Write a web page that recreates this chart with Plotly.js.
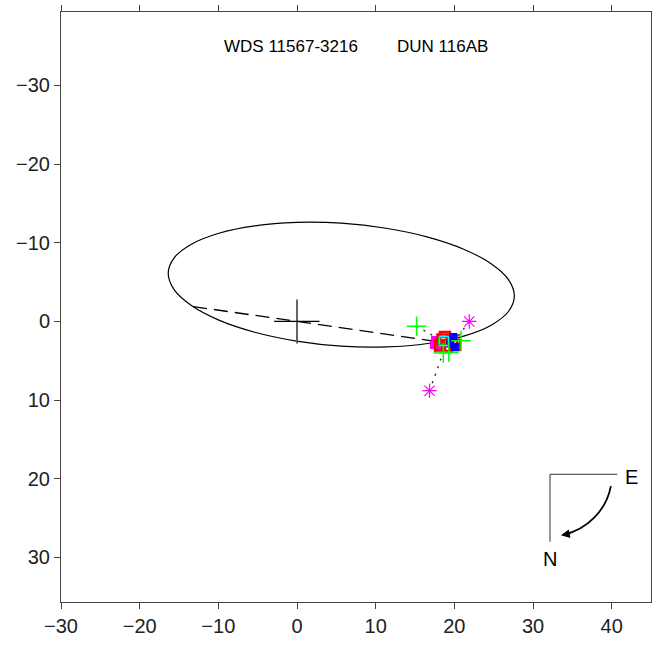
<!DOCTYPE html>
<html>
<head>
<meta charset="utf-8">
<script src="https://cdn.plot.ly/plotly-3.0.1.min.js"></script>
<style>html,body{margin:0;padding:0;background:#fff;}#chart{width:661px;height:648px;}</style>
</head>
<body>
<div id="chart"></div>
<script>
// Orbit (apparent ellipse) points
var orbitX = [27.63, 26.88, 24.68, 21.19, 16.63, 11.32, 5.63, -0.06, -5.37, -9.93, -13.42, -15.62, -16.37, -15.62, -13.42, -9.93, -5.37, -0.06, 5.63, 11.32, 16.63, 21.19, 24.68, 26.88, 27.63];
var orbitY = [-3.25, -1.27, 0.47, 1.86, 2.80, 3.23, 3.13, 2.49, 1.37, -0.17, -2.02, -4.04, -6.11, -8.09, -9.83, -11.22, -12.16, -12.59, -12.49, -11.85, -10.73, -9.19, -7.34, -5.32, -3.25];

// Line of nodes (dashed)
var nodeX = [-13.2, 18.5];
var nodeY = [-1.9, 2.65];

// Primary star cross
var crossVX = [0, 0];
var crossVY = [-2.8, 2.8];
var crossHX = [-2.9, 2.85];
var crossHY = [0, 0];

// Observations
var plusX = [15.2, 20.85, 18.6, 19.3];
var plusY = [0.6, 2.44, 4.0, 3.9];
var starX = [21.9, 16.85];
var starY = [0.0, 8.8];
var redX = [18.81, 19.70, 20.08, 18.18, 19.07, 18.5];
var redY = [1.97, 2.35, 2.99, 2.99, 3.11, 2.3];
var blueX = [19.83, 20.08, 19.5];
var blueY = [1.97, 3.24, 2.8];
var cyanX = [18.68];
var cyanY = [2.48];
var greenSqX = [18.43];
var greenSqY = [2.48];
var magX = [17.54, 17.41, 17.9];
var magY = [2.35, 2.99, 3.4];

// Residual lines: observation -> predicted orbit position
var resid = [
  {x: [15.2, 18.6], y: [0.6, 2.55]},
  {x: [21.9, 20.3], y: [0.0, 2.1]},
  {x: [16.85, 19.0], y: [8.8, 2.8]}
];

var traces = [];
traces.push({x: orbitX, y: orbitY, mode: 'lines', line: {color: '#000', width: 1.2, shape: 'spline', smoothing: 1}, hoverinfo: 'skip'});
traces.push({x: nodeX, y: nodeY, mode: 'lines', line: {color: '#000', width: 1.3, dash: '14px,7px'}, hoverinfo: 'skip'});
traces.push({x: crossVX, y: crossVY, mode: 'lines', line: {color: '#555', width: 1.8}, hoverinfo: 'skip'});
traces.push({x: crossHX, y: crossHY, mode: 'lines', line: {color: '#000', width: 1.3}, hoverinfo: 'skip'});
resid.forEach(function (r) {
  traces.push({x: r.x, y: r.y, mode: 'lines', line: {color: '#333', width: 1.5, dash: '2px,6px'}, hoverinfo: 'skip'});
});
traces.push({x: magX, y: magY, mode: 'markers', marker: {symbol: 'square', size: 8, color: '#ff00ff'}});
traces.push({x: redX, y: redY, mode: 'markers', marker: {symbol: 'square-open', size: 10, color: '#ff0000', line: {color: '#ff0000', width: 2.5}}});
traces.push({x: blueX, y: blueY, mode: 'markers', marker: {symbol: 'square', size: 8, color: '#0000ff'}});
traces.push({x: cyanX, y: cyanY, mode: 'markers', marker: {symbol: 'square-open', size: 9, color: '#00ffff', line: {color: '#00d0d0', width: 1.5}}});
traces.push({x: greenSqX, y: greenSqY, mode: 'markers', marker: {symbol: 'square-open', size: 7, color: '#00cc00', line: {color: '#00cc00', width: 1.2}}});
traces.push({x: plusX, y: plusY, mode: 'markers', marker: {symbol: 'cross-thin-open', size: 14, color: '#00ff00', line: {color: '#00ee00', width: 1.5}}});
traces.push({x: starX, y: starY, mode: 'markers', marker: {symbol: 'asterisk-open', size: 12, color: '#ff00ff', line: {color: '#ff00ff', width: 1.2}}});

var fontFam = 'Liberation Sans, Arial, Helvetica, sans-serif';

var layout = {
  width: 661, height: 648,
  margin: {l: 61, r: 10, t: 12, b: 46, pad: 0},
  paper_bgcolor: '#fff', plot_bgcolor: '#fff',
  showlegend: false,
  font: {family: fontFam, size: 20, color: '#222'},
  xaxis: {range: [-30, 45], tickvals: [-30, -20, -10, 0, 10, 20, 30, 40], ticks: 'outside', ticklen: 6, tickcolor: '#444', tickwidth: 1,
          showline: true, linecolor: '#444', linewidth: 1, mirror: 'allticks', showgrid: false, zeroline: false,
          tickfont: {size: 20, color: '#222'}},
  yaxis: {range: [35.66, -39.34], tickvals: [-30, -20, -10, 0, 10, 20, 30], ticks: 'outside', ticklen: 6, tickcolor: '#444', tickwidth: 1,
          showline: true, linecolor: '#444', linewidth: 1, mirror: true, showgrid: false, zeroline: false,
          tickfont: {size: 20, color: '#222'}},
  shapes: [
    {type: 'line', xref: 'x', yref: 'y', x0: 32.16, y0: 19.42, x1: 40.71, y1: 19.42, line: {color: '#333', width: 1}},
    {type: 'line', xref: 'x', yref: 'y', x0: 32.16, y0: 19.42, x1: 32.16, y1: 27.99, line: {color: '#333', width: 1}},
    {type: 'path', xref: 'x', yref: 'y', path: 'M39.90,20.92 C39.30,24.02 36.89,26.47 33.80,27.13', line: {color: '#000', width: 1.8}}
  ],
  annotations: [
    {x: -0.7, y: -35.0, xref: 'x', yref: 'y', text: 'WDS 11567-3216', showarrow: false, font: {size: 17, color: '#000'}},
    {x: 18.5, y: -35.0, xref: 'x', yref: 'y', text: 'DUN 116AB', showarrow: false, font: {size: 17, color: '#000'}},
    {x: 42.54, y: 19.73, xref: 'x', yref: 'y', text: 'E', showarrow: false, font: {size: 20, color: '#000'}},
    {x: 32.16, y: 30.19, xref: 'x', yref: 'y', text: 'N', showarrow: false, font: {size: 20, color: '#000'}},
    {x: 33.55, y: 27.18, xref: 'x', yref: 'y', text: '', showarrow: true, ax: 11, ay: -2, arrowhead: 2, arrowsize: 1.1, arrowwidth: 1.6, arrowcolor: '#000', standoff: 0, startstandoff: 0}
  ]
};

Plotly.newPlot('chart', traces, layout, {staticPlot: true, displayModeBar: false});
</script>
</body>
</html>
